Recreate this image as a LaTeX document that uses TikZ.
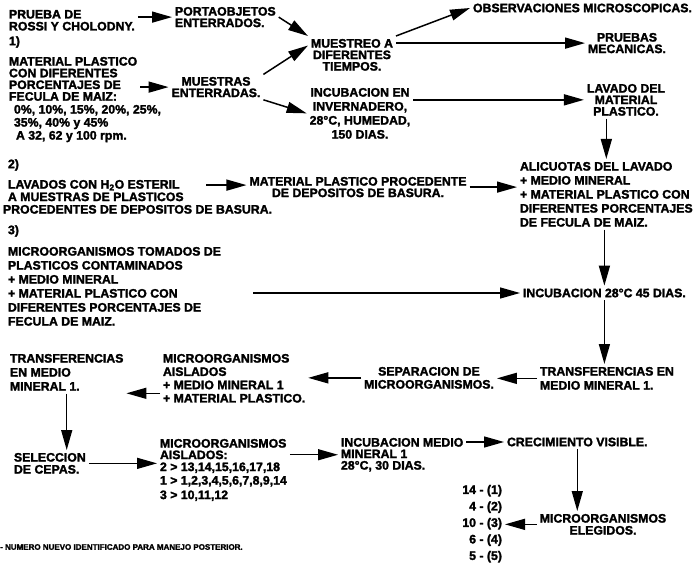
\documentclass[tikz,border=0pt]{standalone}
\usepackage{fontspec}
\setmainfont{Liberation Sans}[BoldFeatures={FakeBold=2}]
\usetikzlibrary{arrows.meta,calc}

\tikzset{
  texto/.style={inner sep=0pt, outer sep=3pt, align=left,
    font=\bfseries\fontsize{12.3}{#1}\selectfont},
  texto/.default=12,
  flecha/.style={-{Triangle[length=20pt,width=11pt]}, line width=1.5pt},
}

\begin{document}
\lineskiplimit=-20pt
\begin{tikzpicture}[x=1pt,y=-1pt]
  \useasboundingbox (0,0) rectangle (694,564);

  % Bloque 1
  \node[texto, anchor=north west] (prueba) at (6,7) {PRUEBA DE\\ROSSI Y CHOLODNY.};
  \node[texto, anchor=west] (uno) at (6,42) {1)};
  \node[texto=11.7, anchor=north west] (material) at (6,54)
    {MATERIAL PLASTICO\\CON DIFERENTES\\PORCENTAJES DE\\FECULA DE MAIZ:};
  \node[texto=13, anchor=north west] (porcent) at (11,102)
    {0\%, 10\%, 15\%, 20\%, 25\%,\\35\%, 40\% y 45\%\\\hspace*{2pt}A 32, 62 y 100 rpm.};
  \node[texto=11.5, anchor=north west] (portaobjetos) at (172,4) {PORTAOBJETOS\\ENTERRADOS.};
  \node[texto=11.5, align=center, anchor=north] (muestras) at (216,74) {MUESTRAS\\ENTERRADAS.};
  \node[texto=11.5, align=center, anchor=north] (muestreo) at (352,36) {MUESTREO A\\DIFERENTES\\TIEMPOS.};
  \node[texto=14, align=center, anchor=north] (incubacion1) at (360,85)
    {INCUBACION EN\\INVERNADERO,\\28°C, HUMEDAD,\\150 DIAS.};
  \node[texto, anchor=west] (observaciones) at (470,8) {OBSERVACIONES MICROSCOPICAS.};
  \node[texto=11.5, align=center, anchor=north] (pruebas) at (627,30) {PRUEBAS\\MECANICAS.};
  \node[texto=11.5, align=center, anchor=north] (lavado) at (626,81) {LAVADO DEL\\MATERIAL\\PLASTICO.};
  \node[texto=14, anchor=north west] (alicuotas) at (517,159)
    {ALICUOTAS DEL LAVADO\\+ MEDIO MINERAL\\+ MATERIAL PLASTICO CON\\DIFERENTES PORCENTAJES\\DE FECULA DE MAIZ.};

  \draw[flecha] (prueba.east |- portaobjetos.west) -- (portaobjetos.west);
  \draw[flecha] (material.east |- muestras.west) -- (muestras.west);
  \draw[flecha] (portaobjetos.east) -- (muestreo.north west);
  \draw[flecha] (muestras.15) -- (muestreo.168);
  \draw[flecha] (muestras.-15) -- (incubacion1.west);
  \draw[flecha] (muestreo.north east) -- (observaciones.west);
  \draw[flecha] (muestreo.east |- pruebas.west) -- (pruebas.west);
  \draw[flecha] (incubacion1.east |- lavado.west) -- (lavado.west);
  \draw[flecha] (alicuotas.north |- lavado.south) -- (alicuotas.north);

  % Bloque 2
  \node[texto, anchor=west] (dos) at (5,165) {2)};
  \node[texto=12.5, anchor=north west] (lavados) at (0,177)
    {\hspace*{5pt}LAVADOS CON H\textsubscript{2}O ESTERIL\\\hspace*{5pt}A MUESTRAS DE PLASTICOS\\PROCEDENTES DE DEPOSITOS DE BASURA.};
  \node[texto=11.5, align=center, anchor=north] (material2) at (358,174)
    {MATERIAL PLASTICO PROCEDENTE\\DE DEPOSITOS DE BASURA.};

  \draw[flecha] ($(material2.west)+(-40,-2)$) -- ($(material2.west)+(0,-2)$);
  \draw[flecha] (material2.east) -- (material2.east -| alicuotas.west);

  % Bloque 3
  \node[texto, anchor=west] (tres) at (5,231) {3)};
  \node[texto=14, anchor=north west] (microorg3) at (5,244)
    {MICROORGANISMOS TOMADOS DE\\PLASTICOS CONTAMINADOS\\+ MEDIO MINERAL\\+ MATERIAL PLASTICO CON\\DIFERENTES PORCENTAJES DE\\FECULA DE MAIZ.};
  \node[texto, anchor=west] (incubacion2) at (520,293) {INCUBACION 28°C 45 DIAS.};

  \draw[flecha] ($(incubacion2.west)+(-267,0)$) -- (incubacion2.west);
  \draw[flecha] (incubacion2.north |- alicuotas.south) -- (incubacion2.north);

  % Aislamiento
  \node[texto=14, anchor=north west] (transfer1) at (537,364) {TRANSFERENCIAS EN\\MEDIO MINERAL 1.};
  \node[texto=13, align=center, anchor=north] (separacion) at (429,364) {SEPARACION DE\\MICROORGANISMOS.};
  \node[texto=13.3, anchor=north west] (aislados1) at (160,351)
    {MICROORGANISMOS\\AISLADOS\\+ MEDIO MINERAL 1\\+ MATERIAL PLASTICO.};
  \node[texto=14, anchor=north west] (transfer2) at (7,351) {TRANSFERENCIAS\\EN MEDIO\\MINERAL 1.};
  \node[texto, anchor=north west] (seleccion) at (11,450) {SELECCION\\DE CEPAS.};
  \node[texto=11.5, anchor=north west] (aislados2) at (157,436)
    {MICROORGANISMOS\\AISLADOS:\\[0.5pt]2 > 13,14,15,16,17,18\\[2pt]1 > 1,2,3,4,5,6,7,8,9,14\\[3pt]3 > 10,11,12};
  \node[texto=11.5, anchor=north west] (incubacion3) at (338,435) {INCUBACION MEDIO\\MINERAL 1\\28°C, 30 DIAS.};
  \node[texto, anchor=west] (crecimiento) at (504,442) {CRECIMIENTO VISIBLE.};
  \node[texto, align=center, anchor=north] (elegidos) at (603,511) {MICROORGANISMOS\\ELEGIDOS.};
  \node[texto=16.5, align=right, anchor=north east] (numeros) at (505,482)
    {14 - (1)\\4 - (2)\\10 - (3)\\6 - (4)\\5 - (5)};

  \draw[flecha] (incubacion2.south) -- (incubacion2.south |- transfer1.north);
  \draw[flecha] (transfer1.west) -- (transfer1.west -| separacion.east);
  \draw[flecha] (separacion.west) -- (separacion.west -| aislados1.east);
  \draw[flecha] ($(aislados1.west)+(0,15)$) -- ($(transfer2.east |- aislados1.west)+(0,15)$);
  \draw[flecha] (transfer2.south) -- (transfer2.south |- seleccion.north);
  \draw[flecha] (seleccion.east) -- (seleccion.east -| aislados2.west);
  \draw[flecha] (aislados2.east |- incubacion3.west) -- (incubacion3.west);
  \draw[flecha] (incubacion3.east |- crecimiento.west) -- (crecimiento.west);
  \draw[flecha] (crecimiento.south) -- (crecimiento.south |- elegidos.north);
  \draw[flecha] (elegidos.west) -- (elegidos.west -| numeros.east);

  % Nota
  \node[inner sep=0pt, anchor=west, font=\bfseries\fontsize{8}{9}\selectfont] (nota) at (0,547)
    {- NUMERO NUEVO IDENTIFICADO PARA MANEJO POSTERIOR.};
\end{tikzpicture}
\end{document}
